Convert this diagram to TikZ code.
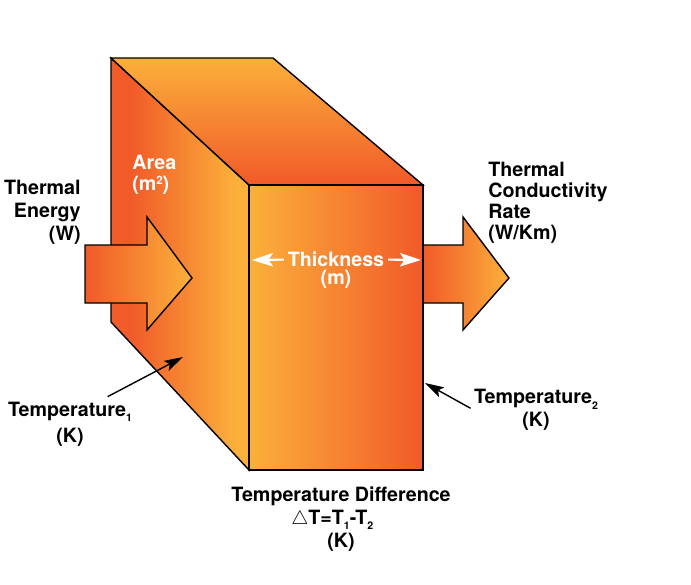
\documentclass[tikz,border=0pt]{standalone}
\usepackage{fontspec}
\setmainfont{TeX Gyre Heros}
\usetikzlibrary{arrows.meta}
\definecolor{thermred}{HTML}{F15A29}
\definecolor{thermyellow}{HTML}{FBB03B}
\pgfdeclarehorizontalshading{leftface}{100bp}{color(0bp)=(thermred); color(32bp)=(thermred); color(70bp)=(thermyellow); color(100bp)=(thermyellow)}
\newcommand{\lowsub}[1]{\raisebox{-3pt}{\fontsize{6}{6}\selectfont #1}}
\newcommand{\highsup}[1]{\raisebox{3.6pt}{\fontsize{6.5}{6.5}\selectfont #1}}
\tikzset{
  textlabel/.style={font=\fontsize{11.2}{12}\selectfont\bfseries, inner sep=0pt, align=center},
  whitelabel/.style={textlabel, text=white},
  solid face/.style={draw=black, thick, line join=miter},
  whitearrow/.style={white, line width=1.2pt, -{Stealth[length=0.42cm,width=0.27cm,inset=0.09cm]}},
  blackarrow/.style={black, thick, -{Stealth[length=0.38cm,width=0.22cm,inset=0.08cm]}}
}
\begin{document}
\begin{tikzpicture}[x=0.02cm, y=-0.02cm]
    \useasboundingbox (0,0) rectangle (691,585);
    \path[solid face, shading=leftface] (111,58) -- (249,185) -- (249,470) -- (111,322) -- cycle;
    \path[solid face, top color=thermyellow, bottom color=thermred] (111,58) -- (273,58) -- (423,185) -- (249,185) -- cycle;
    \path[solid face, left color=thermred, right color=thermyellow] (85,245) -- (147,245) -- (147,217) -- (192,278) -- (147,330) -- (147,303) -- (85,303) -- cycle;
    \path[solid face, left color=thermred, right color=thermyellow] (423,245) -- (463,245) -- (463,217) -- (509,278) -- (463,330) -- (463,303) -- (423,303) -- cycle;
    \path[solid face, left color=thermyellow, right color=thermred] (249,185) rectangle (423,470);

    \node[textlabel, align=right, anchor=north east] (energy) at (81,180) {Thermal\\[1pt]Energy\\[1pt](W)};
    \node[textlabel, align=left, anchor=north west] (rate) at (488,162) {Thermal\\Conductivity\\Rate\\(W/Km)};
    \node[whitelabel, align=left, anchor=north west] (area) at (132,155) {Area\\(m\highsup{2})};
    \node[whitelabel] (thickness) at (336,259) {Thickness};
    \node[whitelabel] (thickunit) at (336,279) {(m)};
    \node[textlabel, inner ysep=2.8pt] (tempone) at (70,424) {Temperature\lowsub{1}\\[2.7pt](K)};
    \node[textlabel] (temptwo) at (536,410) {Temperature\lowsub{2}\\[1pt](K)};
    \node[textlabel, anchor=north] (difference) at (341,486) {Temperature Difference\\[1.3pt]$\triangle$T=T\lowsub{1}-\kern-0.6pt T\lowsub{2}\rule{10pt}{0pt}\\[1.3pt](K)};

    \coordinate (thickleft) at (252,260);
    \coordinate (thickright) at (421,260);
    \coordinate (tiponecoord) at (183,357);
    \coordinate (tiptwocoord) at (425,383);
    \draw[whitearrow, shorten <=2pt] (thickness) -- (thickleft);
    \draw[whitearrow, shorten <=2pt] (thickness) -- (thickright);
    \draw[blackarrow] (tempone.36) -- (tiponecoord);
    \draw[blackarrow, shorten <=2pt] (temptwo.west) -- (tiptwocoord);
\end{tikzpicture}
\end{document}
